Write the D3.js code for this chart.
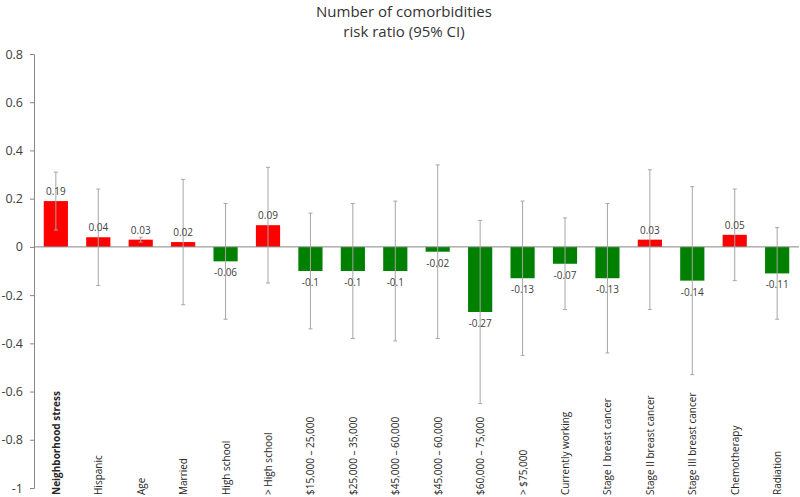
<!DOCTYPE html>
<meta charset="utf-8">
<script src="https://d3js.org/d3.v7.min.js"></script>
<style>
    body { margin: 0; background: #fff; }
    text { font-family: "Open Sans", sans-serif; }
</style>
<div id="base"></div>
<script>
    // chart data
    var categories = ["Neighborhood stress", "Hispanic", "Age", "Married", "High school", "> High school",
        "$15,000 \u2013 25,000", "$25,000 \u2013 35,000", "$45,000 \u2013 60,000", "$45,000 \u2013 60,000",
        "$60,000 \u2013 75,000", "> $75,000", "Currently working", "Stage I breast cancer",
        "Stage II breast cancer", "Stage III breast cancer", "Chemotherapy", "Radiation"];
    var values = [0.19, 0.04, 0.03, 0.02, -0.06, 0.09, -0.1, -0.1, -0.1, -0.02, -0.27, -0.13, -0.07, -0.13, 0.03, -0.14, 0.05, -0.11];
    var ciLow = [0.07, -0.16, 0.02, -0.24, -0.30, -0.15, -0.34, -0.38, -0.39, -0.38, -0.65, -0.45, -0.26, -0.44, -0.26, -0.53, -0.14, -0.30];
    var ciHigh = [0.31, 0.24, 0.04, 0.28, 0.18, 0.33, 0.14, 0.18, 0.19, 0.34, 0.11, 0.19, 0.12, 0.18, 0.32, 0.25, 0.24, 0.08];
    var yTicks = [-1, -0.8, -0.6, -0.4, -0.2, 0, 0.2, 0.4, 0.6, 0.8];

    var width = 800, height = 497;
    var plotLeft = 34, plotRight = 799, plotTop = 54, plotBottom = 488;

    var svg = d3.select("#base")
        .append("svg")
        .attr("width", width)
        .attr("height", height);

    var data = categories.map(function (c, i) {
        return { name: c, value: values[i], lo: ciLow[i], hi: ciHigh[i], idx: i };
    });

    var x = d3.scaleBand()
        .domain(d3.range(categories.length))
        .range([plotLeft, plotRight])
        .paddingInner(0.43)
        .paddingOuter(0.23);

    var y = d3.scaleLinear()
        .domain([-1, 0.8])
        .range([plotBottom, plotTop]);

    // title
    svg.append("text")
        .attr("x", 404).attr("y", 17)
        .attr("text-anchor", "middle")
        .attr("font-size", "15px")
        .attr("fill", "#333")
        .text("Number of comorbidities");
    svg.append("text")
        .attr("x", 404).attr("y", 37)
        .attr("text-anchor", "middle")
        .attr("font-size", "15px")
        .attr("fill", "#333")
        .text("risk ratio (95% CI)");

    // y-axis
    var yAxis = svg.append("g")
        .attr("transform", "translate(" + plotLeft + ",0)")
        .call(d3.axisLeft(y).tickValues(yTicks).tickSize(4).tickPadding(7)
            .tickFormat(function (d) { return String(+d.toFixed(1)); }));
    yAxis.select(".domain").attr("stroke", "#868686");
    yAxis.selectAll(".tick line").attr("stroke", "#868686");
    yAxis.selectAll(".tick text")
        .attr("font-size", "12.5px")
        .attr("fill", "#404040")
        .style("font-family", "'Open Sans', sans-serif");

    // bars
    svg.append("g")
        .selectAll("rect")
        .data(data)
        .enter()
        .append("rect")
        .attr("x", function (d) { return x(d.idx); })
        .attr("width", x.bandwidth())
        .attr("y", function (d) { return y(Math.max(0, d.value)); })
        .attr("height", function (d) { return Math.abs(y(d.value) - y(0)); })
        .attr("fill", function (d) { return d.value >= 0 ? "#ff0000" : "#008000"; });

    // zero line
    svg.append("line")
        .attr("x1", plotLeft).attr("x2", plotRight)
        .attr("y1", y(0)).attr("y2", y(0))
        .attr("stroke", "#868686");

    // error bars
    var eb = svg.append("g")
        .selectAll("g")
        .data(data)
        .enter()
        .append("g")
        .attr("stroke", "#a6a6a6")
        .attr("stroke-width", 1);
    eb.append("line")
        .attr("x1", function (d) { return x(d.idx) + x.bandwidth() / 2; })
        .attr("x2", function (d) { return x(d.idx) + x.bandwidth() / 2; })
        .attr("y1", function (d) { return y(d.lo); })
        .attr("y2", function (d) { return y(d.hi); });
    eb.append("line")
        .attr("x1", function (d) { return x(d.idx) + x.bandwidth() / 2 - 2; })
        .attr("x2", function (d) { return x(d.idx) + x.bandwidth() / 2 + 2; })
        .attr("y1", function (d) { return y(d.hi); })
        .attr("y2", function (d) { return y(d.hi); });
    eb.append("line")
        .attr("x1", function (d) { return x(d.idx) + x.bandwidth() / 2 - 2; })
        .attr("x2", function (d) { return x(d.idx) + x.bandwidth() / 2 + 2; })
        .attr("y1", function (d) { return y(d.lo); })
        .attr("y2", function (d) { return y(d.lo); });

    // value labels
    svg.append("g")
        .selectAll("text")
        .data(data)
        .enter()
        .append("text")
        .attr("x", function (d) { return x(d.idx) + x.bandwidth() / 2; })
        .attr("y", function (d) { return d.value >= 0 ? y(d.value) - 6 : y(d.value) + 15; })
        .attr("text-anchor", "middle")
        .attr("font-size", "10px")
        .attr("fill", "#404040")
        .text(function (d) { return d.value; });

    // category labels
    svg.append("g")
        .selectAll("text")
        .data(data)
        .enter()
        .append("text")
        .attr("transform", function (d) {
            return "translate(" + (x(d.idx) + x.bandwidth() / 2 + 4) + ",495) rotate(-90)";
        })
        .attr("text-anchor", "start")
        .attr("font-size", "10px")
        .attr("font-weight", function (d) { return d.idx === 0 ? "bold" : "normal"; })
        .attr("fill", "#262626")
        .text(function (d) { return d.name; });
</script>
